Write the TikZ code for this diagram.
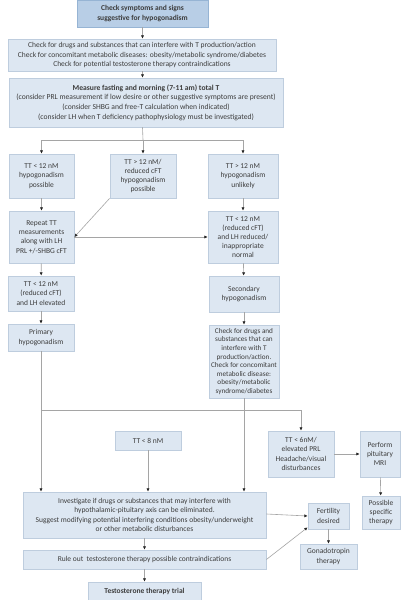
\documentclass[tikz,border=0pt]{standalone}
\usepackage{fontspec}
\setmainfont{Carlito}
\usetikzlibrary{arrows.meta,calc}
\definecolor{boxfill}{RGB}{221,231,242}
\definecolor{boxline}{RGB}{190,205,222}
\definecolor{topfill}{RGB}{184,206,230}
\definecolor{topline}{RGB}{150,180,212}
\definecolor{txt}{RGB}{60,60,60}
\definecolor{conn}{RGB}{165,165,165}
\tikzset{
  box/.style={draw=boxline, fill=boxfill, line width=0.8pt, inner sep=0pt, align=center,
    text=txt, font=\fontsize{7.5}{9.2}\selectfont},
  topbox/.style={box, draw=topline, fill=topfill},
  conn/.style={draw=conn, line width=0.6pt},
  arr/.style={conn, -{Latex[length=3.2pt,width=3.2pt,color=black!85]}},
}
\newcommand{\bx}[6]{% style, name, x1, y1, x2, y2 ... text follows
  \node[#1, minimum width={(#5-#3)*1pt}, minimum height={(#6-#4)*1pt}] (#2) at ({(#3+#5)/2},{(#4+#6)/2})}
\begin{document}
\begin{tikzpicture}[x=1pt,y=-1pt]
\useasboundingbox[fill=white] (0,0) rectangle (402,600);
\bx{topbox}{top}{77}{0}{208}{27}{\bfseries Check symptoms and signs\\\bfseries suggestive for hypogonadism};
\bx{box}{b2}{8}{39}{276}{71}{Check for drugs and substances that can interfere with T production/action\\Check for concomitant metabolic diseases: obesity/metabolic syndrome/diabetes\\Check for potential testosterone therapy contraindications};
\bx{box,font=\fontsize{7.6}{9.6}\selectfont}{b3}{9}{78}{283}{127}{{\bfseries Measure fasting and morning (7-11 am) total T}\\(consider PRL measurement if low desire or other suggestive symptoms are present)\\(consider SHBG and free-T calculation when indicated)\\(consider LH when T deficiency pathophysiology must be investigated)};
\bx{box}{A}{9}{154}{74}{198}{TT < 12 nM\\hypogonadism\\possible};
\bx{box}{B}{110}{154}{176}{198}{TT > 12 nM/\\reduced cFT\\hypogonadism\\possible};
\bx{box}{C}{208}{154}{278}{198}{TT > 12 nM\\hypogonadism\\unlikely};
\bx{box}{D}{9}{211}{74}{263}{Repeat TT\\measurements\\along with LH\\PRL +/-SHBG cFT};
\bx{box}{E}{208}{211}{278}{263}{TT < 12 nM\\(reduced cFT)\\and LH reduced/\\inappropriate\\normal};
\bx{box}{F}{8}{276}{74}{311}{TT < 12 nM\\(reduced cFT)\\and LH elevated};
\bx{box}{G}{8}{324}{74}{351}{Primary\\hypogonadism};
\bx{box}{H}{209}{276}{279}{312}{Secondary\\hypogonadism};
\bx{box,font=\fontsize{7.2}{8.6}\selectfont}{I}{209}{325}{279}{398}{Check for drugs and\\substances that can\\interfere with T\\production/action.\\Check for concomitant\\metabolic disease:\\obesity/metabolic\\syndrome/diabetes};
\bx{box}{K}{115}{431}{181}{450}{TT < 8 nM};
\bx{box}{J}{268}{431}{334}{477}{TT < 6nM/\\elevated PRL\\Headache/visual\\disturbances};
\bx{box}{L}{360}{431}{400}{477}{Perform\\pituitary\\MRI};
\bx{box}{M}{362}{496}{400}{529}{Possible\\specific\\therapy};
\bx{box}{N}{23}{492}{266}{538}{Investigate if drugs or substances that may interfere with\\hypothalamic-pituitary axis can be eliminated.\\Suggest modifying potential interfering conditions obesity/underweight\\or other metabolic disturbances};
\bx{box}{O}{308}{503}{349}{529}{Fertility\\desired};
\bx{box}{P}{300}{544}{357}{569}{Gonadotropin\\therapy};
\bx{box}{Q}{23}{550}{266}{569}{Rule out\ \ testosterone therapy possible contraindications};
\bx{box}{R}{88}{582}{201}{600}{\bfseries Testosterone therapy trial};
% connectors
\draw[arr] (top.south) -- (top.south |- b2.north);
\draw[arr] (b2.south -| top.south) -- (top.south |- b3.north);
\coordinate (s1) at (143,140);
\draw[conn] (top.south |- b3.south) -- (s1);
\draw[conn] (A.north |- s1) -- (C.north |- s1);
\draw[arr] (A.north |- s1) -- (A.north);
\draw[arr] (s1) -- (B.north);
\draw[arr] (C.north |- s1) -- (C.north);
\draw[arr] (A) -- (D);
\draw[arr] (C) -- (E);
\draw[arr] (B.south west) -- (D.east);
\draw[arr] (D.east) -- (E.west);
\draw[arr] (D) -- (F);
\draw[arr] (F) -- (G);
\draw[arr] (E) -- (H);
\draw[arr] (H) -- (I);
\coordinate (s2) at (41,410);
\draw[arr] (G.south) -- (G.south |- N.north);
\draw[arr] (s2) -| (J.north);
\draw[arr] (I.south) -- (I.south |- N.north);
\draw[arr] (K.south) -- (K.south |- N.north);
\draw[arr] (J.east) -- (L.west);
\draw[arr] (L) -- (M);
\draw[arr] ([yshift=1pt]N.east) -- (O.west);
\draw[arr] (Q.east) -- ([yshift=2pt]O.south west);
\draw[arr] (O) -- (P);
\draw[arr] (N.south) -- (N.south |- Q.north);
\draw[arr] (Q) -- (R);
\end{tikzpicture}
\end{document}
